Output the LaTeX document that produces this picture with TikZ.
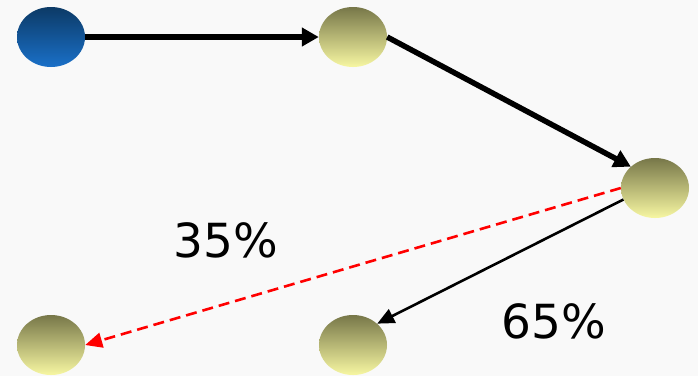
\documentclass[tikz,border=0pt]{standalone}
\usepackage{xcolor}
\usepackage{tikz}
\usepackage{fontspec}
\setmainfont{DejaVu Sans}
\usetikzlibrary{shapes.geometric,arrows.meta}

\definecolor{deepblue}{HTML}{0C3A66}
\definecolor{lightblue}{HTML}{1A70C8}
\definecolor{olivetop}{HTML}{777749}
\definecolor{olivebot}{HTML}{F7F7A2}
\definecolor{bggray}{HTML}{F9F9F9}

\tikzset{
  blob/.style={ellipse, minimum width=68pt, minimum height=60pt, inner sep=0pt,
    top color=olivetop, bottom color=olivebot},
  blueblob/.style={blob, top color=deepblue, bottom color=lightblue},
  bigarrow/.style={line width=5.5pt, -{Triangle[length=17pt,width=18pt]}},
  smallarrow/.style={line width=2.6pt, -{Triangle[length=17pt,width=15pt]}},
  percent/.style={font=\fontsize{47}{50}\selectfont}
}

\begin{document}
\begin{tikzpicture}[x=1pt,y=-1pt]
				\fill[bggray] (0,0) rectangle (698,376);
				\useasboundingbox (0,0) rectangle (698,376);
				
				\node[blueblob] (start) at (51,37) {};
				\node[blob] (mid) at (353,37) {};
				\node[blob] (split) at (655,188) {};
				\node[blob] (left) at (51,345) {};
				\node[blob] (right) at (353,345) {};
				
				\node[percent] (pleft) at (226,240) {35\%};
				\node[percent] (pright) at (554,321) {65\%};
				
				\draw[bigarrow] (start.east) -- (mid.west);
				\draw[bigarrow] (mid.east) -- (split.north west);
				\draw[smallarrow, red, dash pattern=on 11pt off 6pt] (split.west) -- (left.east);
				\draw[smallarrow] (split.200) -- (right.north east);
			\end{tikzpicture}
\end{document}
